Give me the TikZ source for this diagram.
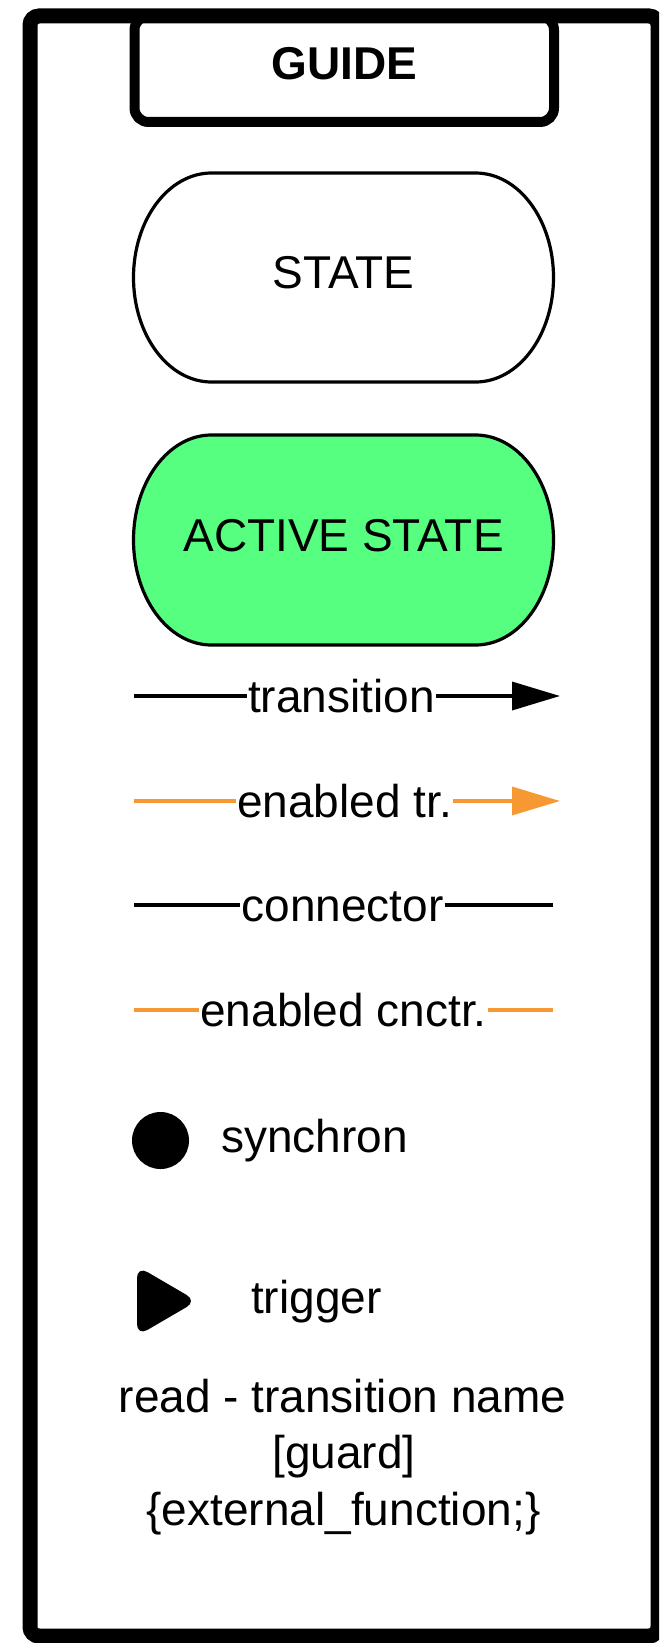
\documentclass[tikz,border=0pt]{standalone}
\usepackage{fontspec}
\setmainfont{Liberation Sans}
\usetikzlibrary{arrows.meta}
\definecolor{activegreen}{RGB}{87,255,128}
\definecolor{enabledorange}{RGB}{247,153,51}

\begin{document}
\begin{tikzpicture}[x=1pt,y=-1pt,
  every node/.style={font=\fontsize{46}{55}\selectfont},
  frame/.style={line width=15pt, rounded corners=9pt},
  titlebox/.style={draw, line width=10pt, rounded corners=14pt,
    minimum width=419.5pt, minimum height=106pt, inner sep=0pt,
    text height=33pt, text depth=11pt,
    font=\bfseries\fontsize{46}{55}\selectfont},
  stateoutline/.style={draw, line width=3.2pt},
  statetext/.style={minimum width=420pt, minimum height=209pt, inner sep=0pt,
    text height=33pt, text depth=11pt},
  legendline/.style={line width=3.5pt},
  tip/.style={-{Triangle[length=48pt,width=28pt]}},
  leglabel/.style={anchor=base, inner xsep=1pt, inner ysep=0pt},
  plaintext/.style={inner sep=0pt}
]
\useasboundingbox (0,0) rectangle (659,1643);
\clip (0,0) rectangle (659,1643);

% title tab hanging from the top of the frame
\node[titlebox] (guide) at (344.25,69) {GUIDE};

% outer frame
\draw[frame] (30,16) rectangle (658,1636);

% state shapes: straight top and bottom, half-elliptic ends
\path[stateoutline] (211.5,173) -- (475.5,173)
  arc[start angle=-90, end angle=90, x radius=78, y radius=104.5]
  -- (211.5,382)
  arc[start angle=90, end angle=270, x radius=78, y radius=104.5] -- cycle;
\node[statetext] (state) at (343.5,277.5) {STATE};

\path[stateoutline, fill=activegreen] (211.5,435) -- (475.5,435)
  arc[start angle=-90, end angle=90, x radius=78, y radius=105]
  -- (211.5,645)
  arc[start angle=90, end angle=270, x radius=78, y radius=105] -- cycle;
\node[statetext] (active) at (343.5,540) {ACTIVE STATE};

% transition
\coordinate (trA) at (134,696);
\coordinate (trB) at (560,696);
\node[leglabel] (trL) at (341.5,712.5) {transition};
\draw[legendline] (trA) -- (trL.west |- trA);
\draw[legendline, tip] (trL.east |- trA) -- (trB);

% enabled transition
\coordinate (etA) at (134,801);
\coordinate (etB) at (560,801);
\node[leglabel] (etL) at (344.5,817) {enabled tr.};
\draw[legendline, enabledorange] (etA) -- (etL.west |- etA);
\draw[legendline, enabledorange, tip] (etL.east |- etA) -- (etB);

% connector
\coordinate (cnA) at (134,905);
\coordinate (cnB) at (553,905);
\node[leglabel] (cnL) at (342.5,921.5) {connector};
\draw[legendline] (cnA) -- (cnL.west |- cnA);
\draw[legendline] (cnL.east |- cnA) -- (cnB);

% enabled connector
\coordinate (ecA) at (134,1010);
\coordinate (ecB) at (553,1010);
\node[leglabel] (ecL) at (343.5,1026) {enabled cnctr.};
\draw[legendline, enabledorange] (ecA) -- (ecL.west |- ecA);
\draw[legendline, enabledorange] (ecL.east |- ecA) -- (ecB);

% synchron
\node[circle, fill=black, minimum size=57pt, inner sep=0pt] (sync) at (160.5,1140.5) {};
\node[plaintext, anchor=base west] (syncL) at (221,1152) {synchron};

% trigger
\fill[rounded corners=12pt] (137,1266) -- (197,1301) -- (137,1336) -- cycle;
\node[plaintext, anchor=base west] (trigL) at (251,1313) {trigger};

% label syntax
\node[plaintext, anchor=base] (syn1) at (342.5,1412) {read - transition name};
\node[plaintext, anchor=base] (syn2) at (344,1468.5) {[guard]};
\node[plaintext, anchor=base] (syn3) at (343.5,1525) {\{external\_function;\}};
\end{tikzpicture}
\end{document}
